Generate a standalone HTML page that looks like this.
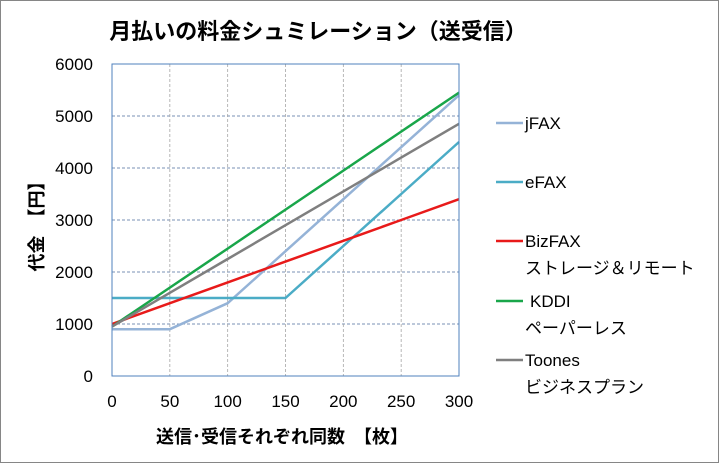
<!DOCTYPE html>
<html><head><meta charset="utf-8"><style>
body{margin:0;background:#fff;}
svg text{font-family:"Liberation Sans","Noto Sans CJK JP",sans-serif;}
</style></head><body>
<svg width="720" height="464" viewBox="0 0 720 464" id="chart">
<rect x="0.5" y="0.5" width="718" height="462" fill="#fff" stroke="#868686"/>
<text x="318" y="39" text-anchor="middle" font-size="22" font-weight="bold" fill="#000">月払いの料金シュミレーション（送受信）</text>
<g id="grid"></g>
<g id="series"></g>
<g id="axes"></g>
<text transform="translate(43,222) rotate(-90)" text-anchor="middle" font-size="18" font-weight="bold">代金　【円】</text>
<text x="282" y="443" text-anchor="middle" font-size="18" font-weight="bold">送信･受信それぞれ同数　【枚】</text>
<g id="legend"></g>
</svg>
<script>
const categories=[0,50,100,150,200,250,300];
const seriesNames=["jFAX","eFAX","BizFAX","KDDI","Toones"];
const seriesSub=["","","ストレージ＆リモート","ペーパーレス","ビジネスプラン"];
const seriesColors=["#95b3d7","#4bacc6","#e81a1a","#19a64a","#7f7f7f"];
const jFAX=[900,900,1400,2400,3400,4400,5400];
const eFAX=[1500,1500,1500,1500,2500,3500,4500];
const BizFAX=[1000,1400,1800,2200,2600,3000,3400];
const KDDI=[950,1700,2450,3200,3950,4700,5450];
const Toones=[950,1600,2250,2900,3550,4200,4850];
const yTicks=[0,1000,2000,3000,4000,5000,6000];
const xTicks=[0,50,100,150,200,250,300];
const seriesData=[jFAX,eFAX,BizFAX,KDDI,Toones];
const L=112,R=459,T=64,B=376;
const xs=v=>L+(v-0)/300*(R-L);
const ys=v=>B-v/6000*(B-T);
const NS="http://www.w3.org/2000/svg";
function mk(tag,attrs,parent){const e=document.createElementNS(NS,tag);for(const k in attrs)e.setAttribute(k,attrs[k]);parent.appendChild(e);return e;}
const grid=document.getElementById('grid'),axes=document.getElementById('axes'),ser=document.getElementById('series'),leg=document.getElementById('legend');
yTicks.forEach(t=>{
 if(t>0&&t<6000){const l=mk('line',{x1:L,x2:R,y1:ys(t),y2:ys(t),stroke:'#4f6f9f','stroke-dasharray':'3,2','stroke-width':0.8},grid);
 
 }
 const tx=mk('text',{x:93,y:ys(t)+6,'text-anchor':'end','font-size':17},axes);tx.textContent=t;
 
 
});
xTicks.forEach(t=>{
 if(t>0&&t<300){const l=mk('line',{x1:xs(t),x2:xs(t),y1:T,y2:B,stroke:'#a6a6a6','stroke-dasharray':'3,2','stroke-width':0.8},grid);
 
 }
 const tx=mk('text',{x:xs(t),y:B+31,'text-anchor':'middle','font-size':17},axes);tx.textContent=t;
 
 
});
const frame=mk('rect',{x:L,y:T,width:R-L,height:B-T,fill:'none',stroke:'#4f81bd','stroke-width':1},axes);


seriesData.forEach((d,i)=>{
 const p=mk('polyline',{points:d.map((v,j)=>xs(categories[j])+','+ys(v)).join(' '),fill:'none',stroke:seriesColors[i],'stroke-width':2.5,'stroke-linejoin':'round'},ser);
 
 
});
const legY=[123,182,241,301,360];
seriesNames.forEach((n,i)=>{
 const g=mk('g',{},leg);
 
 
 mk('line',{x1:496,x2:523,y1:legY[i],y2:legY[i],stroke:seriesColors[i],'stroke-width':2.5},g);
 const t=mk('text',{x:n==='KDDI'?530:525,y:legY[i]+6,'font-size':17},g);t.textContent=n;
 if(seriesSub[i]){const s=mk('text',{x:525,y:legY[i]+33,'font-size':17},g);s.textContent=seriesSub[i];}
});
</script>
</body></html>
